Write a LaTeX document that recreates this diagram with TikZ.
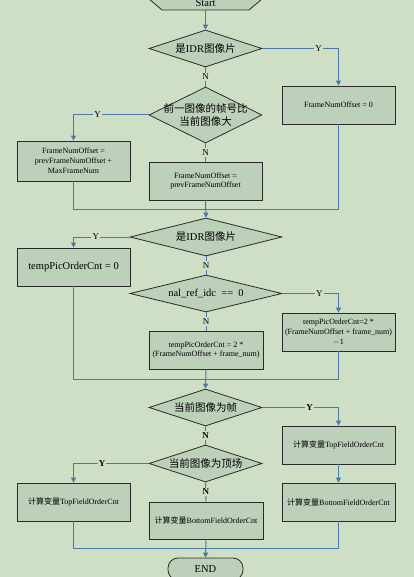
\documentclass[tikz,border=0pt]{standalone}
\usepackage{fontspec}
\setmainfont{Liberation Serif}
\newfontfamily\cjk{Noto Sans CJK SC}
\usetikzlibrary{shapes.geometric,arrows.meta}
\definecolor{bgc}{HTML}{CFDFC5}
\definecolor{fillc}{HTML}{BDD0BA}
\definecolor{linec}{HTML}{4A78AA}
\definecolor{edgec}{HTML}{2A2A2A}
\begin{document}
\begin{tikzpicture}[x=1pt,y=-1pt,
  box/.style={draw=edgec, fill=fillc, line width=0.8pt, rectangle, inner sep=0pt,
    align=center, minimum width=113pt, minimum height=38pt, font=\fontsize{8}{9.8}\selectfont},
  bigbox/.style={box, font=\fontsize{10.5}{12}\selectfont},
  dec/.style={draw=edgec, fill=fillc, line width=0.8pt, diamond, inner sep=0pt,
    minimum width=113pt, minimum height=37pt},
  dtext/.style={inner sep=0pt, align=center, font=\fontsize{10.5}{12.5}\selectfont},
  flow/.style={draw=linec, line width=1pt},
  arr/.style={flow, -{Triangle[length=5pt,width=5pt]}},
  yn/.style={fill=bgc, inner sep=1.2pt, font=\fontsize{9}{10}\selectfont},
  ynb/.style={yn, font=\fontsize{9}{10}\selectfont\bfseries},
]
\fill[bgc] (0,0) rectangle (414,577);
\useasboundingbox (0,0) rectangle (414,577);

% Start
\draw[draw=edgec, fill=fillc, line width=0.8pt] (149,-1) -- (162,10) -- (249,10) -- (262,-1) -- (249,-12) -- (162,-12) -- cycle;
\node[inner sep=0pt, minimum height=14pt, font=\fontsize{10.5}{12}\selectfont] (start) at (205.5,3) {Start};

% decisions
\node[dec] (d1) at (205.5,48.5) {};
\node[dtext] (d1t) at (d1) {{\cjk 是}IDR{\cjk 图像片}};
\node[dec, minimum height=56pt] (d2) at (205.5,115) {};
\node[dtext] (d2t) at (d2) {{\cjk 前一图像的帧号比}\\{\cjk 当前图像大}};
\node[dec, minimum width=152pt, minimum height=38pt] (d3) at (206,237) {};
\node[dtext] (d3t) at (d3) {{\cjk 是}IDR{\cjk 图像片}};
\node[dec, minimum width=152pt] (d4) at (206,293.5) {};
\node[dtext] (d4t) at (d4) {nal\_ref\_idc\ \ ==\ \ 0};
\node[dec] (d5) at (205.5,407.5) {};
\node[dtext] (d5t) at (d5) {{\cjk 当前图像为帧}};
\node[dec] (d6) at (205.5,463.5) {};
\node[dtext] (d6t) at (d6) {{\cjk 当前图像为顶场}};

% boxes
\node[box] (r1) at (338.5,105) {FrameNumOffset = 0};
\node[box, minimum height=40pt] (l1) at (73.5,161) {FrameNumOffset =\\prevFrameNumOffset +\\MaxFrameNum};
\node[box] (m1) at (205.5,181) {FrameNumOffset =\\prevFrameNumOffset};
\node[bigbox] (l2) at (73.5,267) {tempPicOrderCnt = 0};
\node[box] (r2) at (338.5,332) {tempPicOrderCnt=2 *\\(FrameNumOffset + frame\_num)\\$-$1};
\node[box, minimum width=114pt] (m2) at (206,350) {tempPicOrderCnt = 2 *\\(FrameNumOffset + frame\_num)};
\node[box] (r3) at (338.5,445) {{\cjk 计算变量}TopFieldOrderCnt};
\node[box] (r4) at (338.5,502) {{\cjk 计算变量}BottomFieldOrderCnt};
\node[box] (l3) at (73.5,502) {{\cjk 计算变量}TopFieldOrderCnt};
\node[box, minimum width=114pt, minimum height=37pt] (m3) at (206,520.5) {{\cjk 计算变量}BottomFieldOrderCnt};

% end
\node[draw=edgec, fill=fillc, line width=0.8pt, rounded corners=10pt, minimum width=75pt,
  minimum height=22pt, inner sep=0pt, font=\fontsize{10.5}{12}\selectfont] (end) at (205.5,569) {END};

% junctions
\coordinate (j1) at (205.5,209);
\coordinate (j2) at (206,379);
\coordinate (j3) at (206,548);

% connectors
\draw[arr] (start.south) -- (d1.north);
\draw[arr] (d1.east) -| node[yn, pos=0.37] {Y} (r1.north);
\draw[flow] (d1.south) -- node[yn] {N} (d2.north);
\draw[arr] (d2.west) -| node[yn, pos=0.34] {Y} (l1.north);
\draw[flow] (d2.south) -- node[yn] {N} (m1.north);
\draw[flow] (l1.south) |- (j1);
\draw[flow] (r1.south) |- (j1);
\draw[arr] (m1.south) -- (d3.north);

\draw[arr] (d3.west) -| node[yn, pos=0.30] {Y} (l2.north);
\draw[flow] (d3.south) -- node[yn] {N} (d4.north);
\draw[arr] (d4.east) -| node[yn, pos=0.33] {Y} (r2.north);
\draw[flow] (d4.south) -- node[yn] {N} (m2.north);
\draw[flow] (l2.south) |- (j2);
\draw[flow] (r2.south) |- (j2);
\draw[arr] (m2.south) -- (d5.north);

\draw[arr] (d5.east) -| node[ynb, pos=0.31] {Y} (r3.north);
\draw[arr] (r3.south) -- (r4.north);
\draw[flow] (d5.south) -- node[ynb] {N} (d6.north);
\draw[arr] (d6.west) -| node[ynb, pos=0.31] {Y} (l3.north);
\draw[flow] (d6.south) -- node[ynb] {N} (m3.north);
\draw[flow] (l3.south) |- (j3);
\draw[flow] (r4.south) |- (j3);
\draw[arr] (m3.south) -- (end.north);
\end{tikzpicture}
\end{document}
